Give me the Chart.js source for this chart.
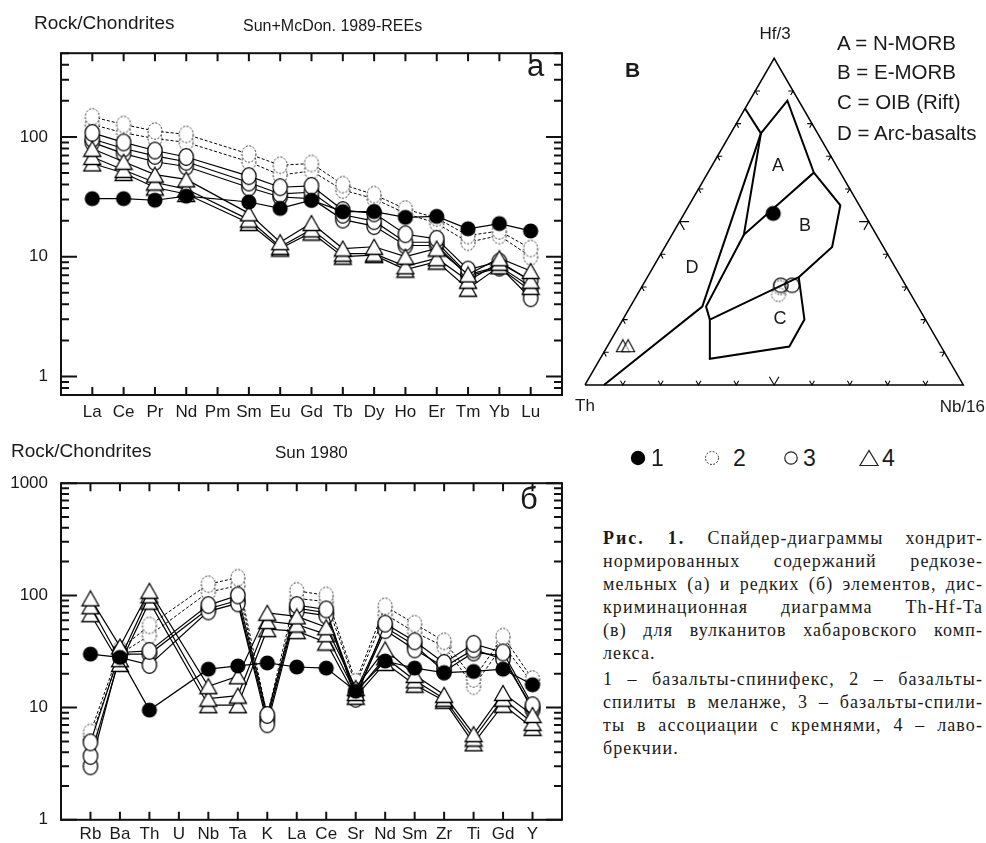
<!DOCTYPE html>
<html><head><meta charset="utf-8">
<script src="https://cdn.jsdelivr.net/npm/chart.js@4.4.1/dist/chart.umd.min.js"></script>
<style>
html,body{margin:0;padding:0;background:#fff}
body{width:986px;height:843px;position:relative;overflow:hidden;font-family:"Liberation Sans",Arial,sans-serif;color:#1a1a1a}
.t{position:absolute;white-space:nowrap;line-height:1}
canvas{position:absolute}
.cap{position:absolute;left:603px;width:380px;font-family:"Liberation Serif","Times New Roman",serif;font-size:18px;line-height:1;letter-spacing:1.1px;white-space:nowrap;text-align:justify;text-align-last:justify;color:#1a1a1a}
.cap.l{text-align-last:left}
</style></head><body>
<canvas id="ca" width="575" height="395" style="left:0;top:30px"></canvas>
<canvas id="cb" width="575" height="383" style="left:0;top:460px"></canvas>
<canvas id="cc" width="426" height="400" style="left:560px;top:20px"></canvas>

<div class="t" style="left:34px;top:13px;font-size:19px">Rock/Chondrites</div>
<div class="t" style="left:243px;top:18px;font-size:16px">Sun+McDon. 1989-REEs</div>
<div class="t" style="left:527px;top:50px;font-size:31px">а</div>

<div class="t" style="left:11px;top:441px;font-size:19px">Rock/Chondrites</div>
<div class="t" style="left:275px;top:444px;font-size:17px">Sun 1980</div>
<div class="t" style="left:520px;top:483px;font-size:31px">б</div>

<div class="t" style="left:625px;top:59px;font-size:21px;font-weight:bold">В</div>
<div class="t" style="left:775px;top:25px;font-size:17px;transform:translateX(-50%)">Hf/3</div>
<div class="t" style="left:575px;top:397px;font-size:17px">Th</div>
<div class="t" style="right:1px;top:398px;font-size:17px">Nb/16</div>
<div class="t" style="left:837px;top:33px;font-size:20.5px">A = N-MORB</div>
<div class="t" style="left:837px;top:62px;font-size:20.5px">B = E-MORB</div>
<div class="t" style="left:837px;top:92px;font-size:20.5px">C = OIB (Rift)</div>
<div class="t" style="left:837px;top:123px;font-size:20.5px">D = Arc-basalts</div>
<div class="t" style="left:778px;top:156px;font-size:18px;transform:translateX(-50%)">A</div>
<div class="t" style="left:805px;top:216px;font-size:18px;transform:translateX(-50%)">B</div>
<div class="t" style="left:780px;top:309px;font-size:18px;transform:translateX(-50%)">C</div>
<div class="t" style="left:692px;top:258px;font-size:18px;transform:translateX(-50%)">D</div>

<svg style="position:absolute;left:625px;top:440px" width="280" height="36">
 <circle cx="13" cy="18" r="7.2" fill="#000"/>
 <circle cx="87" cy="18" r="6.5" fill="none" stroke="#222" stroke-width="1" stroke-dasharray="1.8 1.6"/>
 <circle cx="166" cy="18" r="6.2" fill="none" stroke="#222" stroke-width="1.2"/>
 <polygon points="235,25.5 253,25.5 244,10.5" fill="none" stroke="#222" stroke-width="1.2"/>
</svg>
<div class="t" style="left:651px;top:447px;font-size:23px">1</div>
<div class="t" style="left:733px;top:447px;font-size:23px">2</div>
<div class="t" style="left:803px;top:447px;font-size:23px">3</div>
<div class="t" style="left:882px;top:447px;font-size:23px">4</div>

<div class="cap" style="top:529px"><b style="letter-spacing:2px">Рис. 1.</b> Спайдер-диаграммы хондрит-</div>
<div class="cap" style="top:552px">нормированных содержаний редкозе-</div>
<div class="cap" style="top:575px">мельных (а) и редких (б) элементов, дис-</div>
<div class="cap" style="top:598px">криминационная диаграмма Th-Hf-Ta</div>
<div class="cap" style="top:621px">(в) для вулканитов хабаровского комп-</div>
<div class="cap l" style="top:644px">лекса.</div>
<div class="cap" style="top:670px">1 – базальты-спинифекс, 2 – базальты-</div>
<div class="cap" style="top:693px">спилиты в меланже, 3 – базальты-спили-</div>
<div class="cap" style="top:716px">ты в ассоциации с кремнями, 4 – лаво-</div>
<div class="cap l" style="top:739px">брекчии.</div>

<script>
// ---------- data: panel a (REE, chondrite-normalised) ----------
const REE_LABELS = ['La','Ce','Pr','Nd','Pm','Sm','Eu','Gd','Tb','Dy','Ho','Er','Tm','Yb','Lu'];
const REE_Y_TICKS = [1, 10, 100];
const ree1  = [30.5, 30.5, 29.6, 32, null, 28.6, 25.3, 29.6, 23.8, 23.8, 21.3, 21.7, 17.1, 18.9, 16.4];
const ree2a = [147, 127, 112, 105, null, 72, 58, 60, 40, 33, 25, 21, 15, 16.4, 11.7];
const ree2b = [127, 108, 97, 90, null, 62, 48, 52, 36, 30.5, 23, 19, 13.2, 15, 10];
const ree3a = [108, 90, 77, 68, null, 47, 38, 39, 24.5, 23, 15.4, 14.1, 7.8, 9.1, 6.3];
const ree3b = [96, 80, 69.5, 62, null, 41.6, 33.4, 34.5, 22.4, 19.8, 13.2, 13.2, 7.1, 8.3, 4.5];
const ree3c = [90, 72.5, 62, 56.6, null, 37.8, 31.5, 30.5, 20.4, 18, 12.4, 12.4, 6.9, 8.1, 5.2];
const ree4a = [79.6, 62, 48.4, 44.2, null, 23, 13.2, 19.1, 11.7, 12.1, 10, 11.7, 7.1, 9.7, 7.6];
const ree4b = [68, 53, 41.6, 36.7, null, 20.4, 12.1, 16.9, 10.6, 10.6, 8.3, 9.7, 6.3, 8.9, 6.3];
const ree4c = [60, 50, 37.8, 33.4, null, 19.1, 11.7, 15.9, 10, 10.3, 7.8, 9.1, 5.4, 8.3, 5.6];

// ---------- data: panel б (trace elements) ----------
const TR_LABELS = ['Rb','Ba','Th','U','Nb','Ta','K','La','Ce','Sr','Nd','Sm','Zr','Ti','Gd','Y'];
const TR_Y_TICKS = [1, 10, 100, 1000];
const tr1  = [30, 28, 9.5, null, 22, 23.5, 25, 23, 22.5, 14, 26, 22.5, 20.5, 21, 22, 16];
const tr2a = [6.0, 33, 54, null, 126, 144, 8.5, 110, 100, 17, 80, 56, 39, 18, 43, 18];
const tr2b = [5.3, 30, 44, null, 107, 122, 8, 94, 88, 16, 68, 47, 35, 15.5, 36, 16.5];
const tr3a = [4.9, 31, 32, null, 82, 100, 8.6, 82, 75, 12, 56, 39, 25, 37, 31, 10.5];
const tr3b = [3.7, 28, 24, null, 72, 85, 7.1, 72, 66, 13, 49, 33, 23, 33, 27, 10];
const tr3c = [3.0, 30, 30, null, 76, 90, 7.8, 77, 70, 14, 52, 36, 21, 31, 29, 9.5];
const tr4a = [94, 35, 110, null, 15.5, 19, 70, 65, 52, 15, 33, 19.5, 13, 5.8, 13.5, 8.6];
const tr4b = [80, 27, 100, null, 12, 12.8, 59, 55, 45, 13.5, 28, 17.5, 12, 5.3, 12, 7.3];
const tr4c = [68, 24.5, 88, null, 10.5, 10.5, 50, 48, 38, 12.5, 25, 16, 11.5, 4.8, 10.6, 6.6];

// ---------- data: panel в (Th - Hf/3 - Nb/16 ternary, [Th, Hf/3, Nb/16] %) ----------
const TERN_VERTICES = ['Th', 'Hf/3', 'Nb/16'];
const ternOutline = [[100,0,0],[0,100,0],[0,0,100],[100,0,0]];
const lineLeft    = [[15.4,84.6,0],[15,77,8]];
const fieldA      = [[15,77,8],[3,87,10],[7,65,28],[35,46,19],[15,77,8]];
const lineD       = [[15,77,8],[57,24,19],[95,0,5]];
const lineBLeft   = [[35,46,19],[56,24,20],[57,20,23]];
const lineBRight  = [[7,65,28],[5,55,40],[13.5,42,44],[27,33,40]];
const fieldC      = [[57,20,23],[27,33,40],[32,20,48],[40,11.7,48],[63,8,29],[57,20,23]];
const tern1 = [[24,52.5,23.5]];
const tern2 = [[33.5,29.8,36.7],[35,27.7,37.3]];
const tern3 = [[33,30.5,36.5],[30,30.5,39.5]];
const tern4 = [[84,12,4],[82.6,12,5.4]];

// ---------- markers ----------
function mk(w,h,draw){const c=document.createElement('canvas');c.width=w;c.height=h;draw(c.getContext('2d'));return c;}
const M_FILLED = mk(18,18,g=>{g.beginPath();g.arc(9,9,7.6,0,Math.PI*2);g.fillStyle='#000';g.fill();});
const M_DASHED = mk(18,20,g=>{g.beginPath();g.ellipse(9,10,7,8.2,0,0,Math.PI*2);g.fillStyle='#fff';g.fill();g.setLineDash([2,1.6]);g.lineWidth=1;g.strokeStyle='#222';g.stroke();});
const M_OPEN   = mk(18,20,g=>{g.beginPath();g.ellipse(9,10,7.2,8.3,0,0,Math.PI*2);g.fillStyle='#fff';g.fill();g.lineWidth=1.3;g.strokeStyle='#000';g.stroke();});
const M_TRI    = mk(20,18,g=>{g.beginPath();g.moveTo(10,1.5);g.lineTo(18.5,16.5);g.lineTo(1.5,16.5);g.closePath();g.fillStyle='#fff';g.fill();g.lineWidth=1.3;g.strokeStyle='#000';g.stroke();});
const M_TRI_S  = mk(16,15,g=>{g.beginPath();g.moveTo(8,1.5);g.lineTo(14.5,13.5);g.lineTo(1.5,13.5);g.closePath();g.fillStyle='rgba(255,255,255,0.6)';g.fill();g.lineWidth=1.1;g.strokeStyle='#000';g.stroke();});
const M_DASHED_T = mk(18,18,g=>{g.beginPath();g.arc(9,9,7,0,Math.PI*2);g.setLineDash([1.6,1.4]);g.lineWidth=1;g.strokeStyle='#222';g.stroke();});
const M_OPEN_T = mk(18,18,g=>{g.beginPath();g.arc(9,9,7.2,0,Math.PI*2);g.lineWidth=1.3;g.strokeStyle='#000';g.stroke();});

const FONT = {family:'Liberation Sans', size:17};

function framePlugin(n, yMin, yMax){
  return {id:'frame', afterDraw(chart){
    const {ctx, chartArea:a, scales:{x,y}} = chart;
    ctx.save(); ctx.strokeStyle='#111'; ctx.lineWidth=2;
    ctx.strokeRect(a.left,a.top,a.right-a.left,a.bottom-a.top);
    ctx.beginPath();
    for(let e=Math.floor(Math.log10(yMin)); e<=Math.ceil(Math.log10(yMax)); e++){
      for(let m=1;m<=9;m++){
        const v=m*Math.pow(10,e); if(v<yMin*0.999||v>yMax*1.001) continue;
        const py=y.getPixelForValue(v); const L=(m===1)?16:8;
        ctx.moveTo(a.left,py);ctx.lineTo(a.left+L,py);
        ctx.moveTo(a.right,py);ctx.lineTo(a.right-L,py);
      }
    }
    for(let i=1;i<=n;i++){const px=x.getPixelForValue(i);ctx.moveTo(px,a.top);ctx.lineTo(px,a.top+8);ctx.moveTo(px,a.bottom);ctx.lineTo(px,a.bottom-8);}
    ctx.stroke(); ctx.restore();
  }};
}

function spider(id, labels, groups, yMin, yMax, yTicks, lay){
  const datasets = groups.map(g=>({
    data: g.values.map((v,i)=>({x:i+1,y:v})),
    borderColor:'#000', borderWidth:g.lw, borderDash:g.dash||[],
    pointStyle:g.marker, pointRadius:8, spanGaps:true, tension:0, clip:false, fill:false
  }));
  new Chart(document.getElementById(id), {
    type:'line', data:{datasets},
    options:{responsive:false, animation:false, devicePixelRatio:1,
      layout:{padding:{top:lay.top,right:lay.right,left:0,bottom:0}},
      plugins:{legend:{display:false},tooltip:{enabled:false}},
      scales:{
        x:{type:'linear',min:0,max:labels.length+1,grid:{display:false,drawTicks:false},border:{display:false},
          afterBuildTicks:s=>{s.ticks=labels.map((_,i)=>({value:i+1}));},
          ticks:{autoSkip:false,maxRotation:0,minRotation:0,padding:lay.xPad,color:'#1a1a1a',font:FONT,callback:v=>labels[v-1]},
          afterFit:s=>{s.height=lay.xH;}},
        y:{type:'logarithmic',min:yMin,max:yMax,grid:{display:false,drawTicks:false},border:{display:false},
          afterBuildTicks:s=>{s.ticks=yTicks.map(v=>({value:v}));},
          ticks:{padding:13,color:'#1a1a1a',font:FONT,callback:v=>String(v)},
          afterFit:s=>{s.width=61;}}
      }},
    plugins:[framePlugin(labels.length,yMin,yMax)]
  });
}

spider('ca', REE_LABELS, [
  {values:ree1, marker:M_FILLED, lw:1.2},
  {values:ree4a, marker:M_TRI, lw:1.2},{values:ree4b, marker:M_TRI, lw:1.2},{values:ree4c, marker:M_TRI, lw:1.2},
  {values:ree3a, marker:M_OPEN, lw:1.2},{values:ree3b, marker:M_OPEN, lw:1.2},{values:ree3c, marker:M_OPEN, lw:1.2},
  {values:ree2a, marker:M_DASHED, lw:1, dash:[3,2]},{values:ree2b, marker:M_DASHED, lw:1, dash:[3,2]}
], 0.7, 500, REE_Y_TICKS, {top:12,right:13,xH:30,xPad:7});

spider('cb', TR_LABELS, [
  {values:tr1, marker:M_FILLED, lw:1.2},
  {values:tr4a, marker:M_TRI, lw:1.2},{values:tr4b, marker:M_TRI, lw:1.2},{values:tr4c, marker:M_TRI, lw:1.2},
  {values:tr3a, marker:M_OPEN, lw:1.2},{values:tr3b, marker:M_OPEN, lw:1.2},{values:tr3c, marker:M_OPEN, lw:1.2},
  {values:tr2a, marker:M_DASHED, lw:1, dash:[3,2]},{values:tr2b, marker:M_DASHED, lw:1, dash:[3,2]}
], 1, 1000, TR_Y_TICKS, {top:9,right:13,xH:21,xPad:4});

// ---------- ternary ----------
const S3 = Math.sqrt(3)/2;
function tern(p){const s=p[0]+p[1]+p[2];const H=p[1]/s,N=p[2]/s;return {x:N+H/2,y:H*S3};}
function ternTicks(){
  const pts=[]; const u=1/395;
  const d=a=>({x:Math.cos(a*Math.PI/180),y:Math.sin(a*Math.PI/180)});
  function v(P,a1,a2,L){const A=d(a1),B=d(a2);pts.push({x:P.x+A.x*L,y:P.y+A.y*L},{x:P.x,y:P.y},{x:P.x+B.x*L,y:P.y+B.y*L},{x:NaN,y:NaN});}
  for(let k=1;k<=9;k++){
    const f=k/10, L=(k===5?10:5)*u;
    v({x:f,y:0},120,60,L);
    v({x:f/2,y:f*S3},0,-60,L);
    v({x:1-f/2,y:f*S3},180,240,L);
  }
  return pts;
}
const lineDS=(pts,w)=>({data:pts.map(tern),showLine:true,borderColor:'#000',borderWidth:w,pointRadius:0,tension:0,clip:false,spanGaps:false});
const markDS=(pts,m)=>({data:pts.map(tern),showLine:false,pointStyle:m,pointRadius:8,clip:false});
new Chart(document.getElementById('cc'),{
  type:'scatter',
  data:{datasets:[
    markDS(tern1,M_FILLED), markDS(tern3,M_OPEN_T), markDS(tern2,M_DASHED_T), markDS(tern4,M_TRI_S),
    lineDS(ternOutline,1.5), lineDS(lineLeft,2), lineDS(fieldA,2), lineDS(lineD,2), lineDS(lineBLeft,2), lineDS(lineBRight,2), lineDS(fieldC,2),
    {data:ternTicks(),showLine:true,borderColor:'#000',borderWidth:1.1,pointRadius:0,spanGaps:false,clip:false}
  ]},
  options:{responsive:false,animation:false,devicePixelRatio:1,layout:{padding:0},
    plugins:{legend:{display:false},tooltip:{enabled:false}},
    scales:{x:{type:'linear',display:false,min:-0.0423,max:1.0362},y:{type:'linear',display:false,min:-0.0691,max:0.9436}}}
});
</script>
</body></html>
